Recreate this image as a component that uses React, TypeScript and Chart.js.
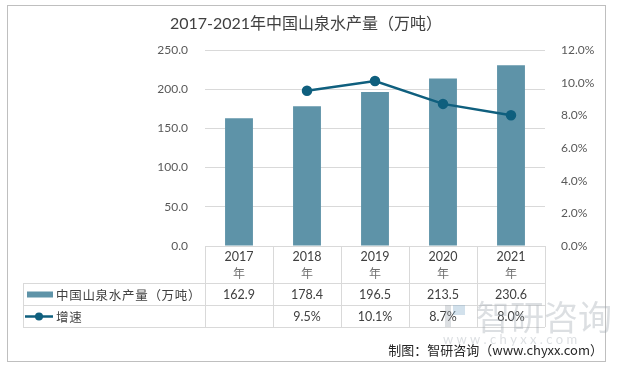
import React, { useEffect, useRef } from "react";
import { Chart, registerables } from "chart.js";

Chart.register(...registerables);

const title = "2017-2021年中国山泉水产量（万吨）";
const categories = ["2017", "2018", "2019", "2020", "2021"];
const categorySuffix = "年";
const productionLabel = "中国山泉水产量（万吨）";
const growthLabel = "增速";
const production = [162.9, 178.4, 196.5, 213.5, 230.6];
const growth: (number | null)[] = [null, 9.5, 10.1, 8.7, 8.0];
const leftTicks = { min: 0, max: 250, step: 50 };
const rightTicks = { min: 0, max: 12, step: 2 };
const sourceText = "制图：智研咨询（www.chyxx.com）";
const watermarkText = "智研咨询";
const watermarkUrl = "w w w . c h y x x . c o m";

const BAR_COLOR = "#5e93a8";
const LINE_COLOR = "#0f5f7e";
const GRID = "#d9d9d9";
const TEXT = "#404040";
const FONT = "'Lato','Noto Sans CJK SC',sans-serif";
const CJK = "'Noto Sans CJK SC',sans-serif";

const tablePlugin = {
  id: "tablePlugin",
  beforeDraw(chart: any) {
    const ctx = chart.ctx;
    ctx.save();
    ctx.fillStyle = "#ffffff";
    ctx.fillRect(0, 0, chart.width, chart.height);
    ctx.strokeStyle = "#bfbfbf";
    ctx.lineWidth = 1;
    ctx.strokeRect(7.5, 5.5, 598, 356);
    ctx.fillStyle = TEXT;
    ctx.font = `16px ${FONT}`;
    ctx.textAlign = "center";
    ctx.textBaseline = "middle";
    ctx.fillText(title, 306, 24);
    ctx.restore();
  },
  afterDraw(chart: any) {
    const ctx = chart.ctx;
    const area = chart.chartArea;
    const xs = chart.scales.x;
    const n = categories.length;
    const colW = (area.right - area.left) / n;
    const top = area.bottom;
    const r1 = top + 37;
    const r2 = r1 + 22;
    const r3 = r2 + 22;
    const legL = 23;
    ctx.save();
    ctx.strokeStyle = GRID;
    ctx.lineWidth = 1;
    const hl = (y: number, x0: number, x1: number) => {
      ctx.beginPath();
      ctx.moveTo(x0, Math.round(y) + 0.5);
      ctx.lineTo(x1, Math.round(y) + 0.5);
      ctx.stroke();
    };
    const vl = (x: number, y0: number, y1: number) => {
      ctx.beginPath();
      ctx.moveTo(Math.round(x) + 0.5, y0);
      ctx.lineTo(Math.round(x) + 0.5, y1);
      ctx.stroke();
    };
    hl(top, area.left, area.right);
    hl(r1, legL, area.right);
    hl(r2, legL, area.right);
    hl(r3, legL, area.right);
    for (let i = 0; i <= n; i++) vl(area.left + i * colW, top, r3);
    vl(legL, r1, r3);

    ctx.fillStyle = TEXT;
    ctx.textAlign = "center";
    ctx.textBaseline = "middle";
    for (let i = 0; i < n; i++) {
      const cx = xs.getPixelForValue(i);
      ctx.font = `12.5px ${FONT}`;
      ctx.fillText(categories[i], cx, top + 11);
      ctx.font = `12px ${CJK}`;
      ctx.fillStyle = "#707070";
      ctx.fillText(categorySuffix, cx, top + 27);
      ctx.fillStyle = TEXT;
      ctx.font = `12.5px ${FONT}`;
      ctx.fillText(production[i].toFixed(1), cx, (r1 + r2) / 2 + 1);
      const g = growth[i];
      if (g !== null) ctx.fillText(g.toFixed(1) + "%", cx, (r2 + r3) / 2 + 1);
    }
    ctx.fillStyle = BAR_COLOR;
    ctx.fillRect(27, (r1 + r2) / 2 - 2.5, 26, 6);
    ctx.strokeStyle = LINE_COLOR;
    ctx.lineWidth = 2.5;
    ctx.beginPath();
    ctx.moveTo(25, (r2 + r3) / 2 + 0.5);
    ctx.lineTo(53, (r2 + r3) / 2 + 0.5);
    ctx.stroke();
    ctx.fillStyle = LINE_COLOR;
    ctx.beginPath();
    ctx.arc(39, (r2 + r3) / 2 + 0.5, 4, 0, Math.PI * 2);
    ctx.fill();
    ctx.fillStyle = TEXT;
    ctx.textAlign = "left";
    ctx.font = `12.5px ${CJK}`;
    (ctx as any).letterSpacing = "0.7px";
    ctx.fillText(productionLabel, 56, (r1 + r2) / 2 + 1);
    ctx.fillText(growthLabel, 56, (r2 + r3) / 2 + 1);
    (ctx as any).letterSpacing = "0px";

    ctx.globalAlpha = 0.35;
    ctx.fillStyle = "#9aa3ad";
    ctx.fillRect(445, 305, 6, 22);
    ctx.fillStyle = "#7fa8c8";
    ctx.fillRect(453, 305, 12, 10);
    ctx.fillStyle = "#9aa3ad";
    ctx.font = `34px ${CJK}`;
    ctx.textAlign = "left";
    ctx.fillText(watermarkText, 476, 317);
    ctx.font = `13px ${FONT}`;
    ctx.fillText(watermarkUrl, 443, 340);
    ctx.globalAlpha = 1;

    ctx.fillStyle = "#262626";
    ctx.textAlign = "right";
    ctx.font = `13px ${CJK}`;
    ctx.fillText(sourceText, 603, 350);
    ctx.restore();
  },
};

export default function App() {
  const ref = useRef<HTMLCanvasElement | null>(null);
  useEffect(() => {
    if (!ref.current) return;
    const chart = new Chart(ref.current, {
      type: "bar",
      data: {
        labels: categories,
        datasets: [
          {
            type: "line",
            label: growthLabel,
            data: growth,
            yAxisID: "y1",
            borderColor: LINE_COLOR,
            backgroundColor: LINE_COLOR,
            borderWidth: 2.5,
            pointRadius: 4,
            pointBackgroundColor: LINE_COLOR,
            pointBorderColor: LINE_COLOR,
            order: 0,
            spanGaps: false,
          } as any,
          {
            type: "bar",
            label: productionLabel,
            data: production,
            yAxisID: "y",
            backgroundColor: BAR_COLOR,
            barPercentage: 0.41,
            categoryPercentage: 1,
            order: 1,
          },
        ],
      },
      plugins: [tablePlugin],
      options: {
        responsive: false,
        animation: false,
        layout: { padding: { top: 50, bottom: 121, left: 0, right: 0 } },
        plugins: {
          legend: { display: false },
          title: { display: false },
          tooltip: { enabled: false },
        },
        scales: {
          x: { display: false },
          y: {
            position: "left",
            min: leftTicks.min,
            max: leftTicks.max,
            ticks: {
              stepSize: leftTicks.step,
              padding: 17,
              color: "#595959",
              font: { family: FONT, size: 12 },
              callback: (v: any) => Number(v).toFixed(1),
            },
            grid: { color: GRID, drawTicks: false },
            border: { display: false },
            afterFit: (s: any) => {
              s.width = 205;
            },
          },
          y1: {
            position: "right",
            min: rightTicks.min,
            max: rightTicks.max,
            ticks: {
              stepSize: rightTicks.step,
              padding: 16,
              color: "#595959",
              font: { family: FONT, size: 12 },
              callback: (v: any) => Number(v).toFixed(1) + "%",
            },
            grid: { display: false, drawTicks: false },
            border: { display: false },
            afterFit: (s: any) => {
              s.width = 73;
            },
          },
        },
      } as any,
    });
    return () => chart.destroy();
  }, []);
  return (
    <div style={{ position: "absolute", left: 0, top: 0, width: 618, height: 367 }}>
      <canvas ref={ref} width={618} height={367} style={{ width: 618, height: 367, display: "block" }} />
    </div>
  );
}
